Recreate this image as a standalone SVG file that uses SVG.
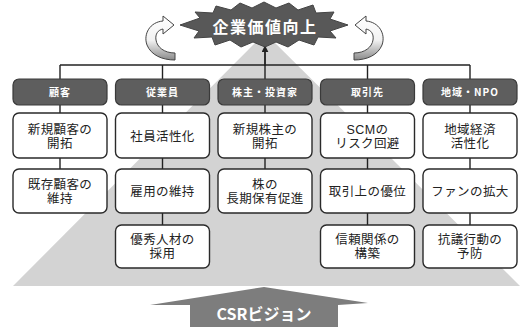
<svg xmlns="http://www.w3.org/2000/svg" width="520" height="327" viewBox="0 0 520 327">
<defs>
<style>
.hdr rect{fill:#5e5e5e;stroke:#3a3a3a;stroke-width:1.2}
.hdr text{fill:#fff;font-family:"Noto Sans CJK JP","Noto Sans",sans-serif;font-size:10px;font-weight:700;letter-spacing:1px;text-anchor:middle}
.box rect{fill:#fff;stroke:#2a2a2a;stroke-width:1.4}
.box text{fill:#222;font-family:"Liberation Sans","Noto Sans CJK JP",sans-serif;font-size:12.5px;text-anchor:middle;letter-spacing:0.4px}
.conn line,.conn path{stroke:#222;stroke-width:1.4;fill:none}
</style>
<linearGradient id="ca" x1="0" y1="0" x2="0" y2="1">
<stop offset="0" stop-color="#ffffff"/>
<stop offset="0.55" stop-color="#f2f2f2"/>
<stop offset="1" stop-color="#8a8a8a"/>
</linearGradient>
<marker id="ah" viewBox="0 0 10 10" refX="9" refY="5" markerWidth="5" markerHeight="5" orient="auto">
<path d="M0,0 L10,5 L0,10 Z" fill="#222"/>
</marker>
</defs>
<rect width="520" height="327" fill="#fff"/>
<g id="pyramid">
<polygon points="265,33 13,286 520,286" fill="#d3d3d3"/>
</g>
<g id="csr-vision">
<polygon points="264,287 150,305 190,305 190,327 338,327 338,305 368,303" fill="#7d7d7d"/>
<text x="264" y="320" fill="#fff" font-family="'Noto Sans CJK JP','Noto Sans',sans-serif" font-size="16" font-weight="700" text-anchor="middle">CSRビジョン</text>
</g>
<g class="conn" id="connectors">
<line x1="60" y1="65" x2="470" y2="65"/>
<line x1="60" y1="65" x2="60" y2="79"/>
<line x1="162.5" y1="65" x2="162.5" y2="79"/>
<line x1="265" y1="46" x2="265" y2="79"/>
<line x1="367.5" y1="65" x2="367.5" y2="79"/>
<line x1="470" y1="65" x2="470" y2="79"/>
<path d="M265,66 L265,46" marker-end="url(#ah)"/>
<line x1="60" y1="105" x2="60" y2="113"/>
<line x1="162.5" y1="105" x2="162.5" y2="113"/>
<line x1="265" y1="105" x2="265" y2="113"/>
<line x1="367.5" y1="105" x2="367.5" y2="113"/>
<line x1="470" y1="105" x2="470" y2="113"/>
<line x1="60" y1="158" x2="60" y2="169"/>
<line x1="162.5" y1="158" x2="162.5" y2="169"/>
<line x1="265" y1="158" x2="265" y2="169"/>
<line x1="367.5" y1="158" x2="367.5" y2="169"/>
<line x1="470" y1="158" x2="470" y2="169"/>
<line x1="162.5" y1="213" x2="162.5" y2="225"/>
<line x1="367.5" y1="213" x2="367.5" y2="225"/>
<line x1="470" y1="213" x2="470" y2="225"/>
</g>
<g id="value-up">
<polygon points="180,25 200,18 195,12 213,13 216,6 231,10 240,3 252,8 264,2 276,8 289,3 298,10 313,5 316,13 334,12 330,19 348,25 330,31 336,38 318,37 314,45 299,40 288,47 276,42 265,47 253,42 241,47 230,40 215,45 212,37 194,38 199,31" fill="#585858" stroke="#444" stroke-width="1"/>
<text x="265" y="33" fill="#fff" font-family="'Noto Sans CJK JP','Noto Sans',sans-serif" font-size="16" font-weight="700" letter-spacing="1.5" text-anchor="middle">企業価値向上</text>
</g>
<g id="loop-left">
<path d="M174,25 L163,16 L163,21 C150,22 143,34 147,45 C151,55 162,60 175,60 L175,53 C164,53 157,47 156,40 C155,34 158,30 163,29 L163,34 Z" fill="url(#ca)" stroke="#444" stroke-width="1"/>
</g>
<g id="loop-right" transform="translate(529,0) scale(-1,1)">
<path d="M174,25 L163,16 L163,21 C150,22 143,34 147,45 C151,55 162,60 175,60 L175,53 C164,53 157,47 156,40 C155,34 158,30 163,29 L163,34 Z" fill="url(#ca)" stroke="#444" stroke-width="1"/>
</g>
<g id="h-customer" class="hdr"><rect x="13" y="79" width="94" height="26" rx="6"/><text x="60" y="96">顧客</text></g>
<g id="h-employee" class="hdr"><rect x="115.5" y="79" width="94" height="26" rx="6"/><text x="162.5" y="96">従業員</text></g>
<g id="h-investor" class="hdr"><rect x="218" y="79" width="94" height="26" rx="6"/><text x="265" y="96">株主・投資家</text></g>
<g id="h-supplier" class="hdr"><rect x="320.5" y="79" width="94" height="26" rx="6"/><text x="367.5" y="96">取引先</text></g>
<g id="h-community" class="hdr"><rect x="423" y="79" width="94" height="26" rx="6"/><text x="470" y="96">地域・NPO</text></g>
<g id="c1r1" class="box"><rect x="13" y="113" width="94" height="45" rx="6"/><text x="60" y="134">新規顧客の</text><text x="60" y="148">開拓</text></g>
<g id="c1r2" class="box"><rect x="13" y="169" width="94" height="44" rx="6"/><text x="60" y="189">既存顧客の</text><text x="60" y="203">維持</text></g>
<g id="c2r1" class="box"><rect x="115.5" y="113" width="94" height="45" rx="6"/><text x="162.5" y="141">社員活性化</text></g>
<g id="c2r2" class="box"><rect x="115.5" y="169" width="94" height="44" rx="6"/><text x="162.5" y="196">雇用の維持</text></g>
<g id="c2r3" class="box"><rect x="115.5" y="225" width="94" height="43" rx="6"/><text x="162.5" y="244">優秀人材の</text><text x="162.5" y="258">採用</text></g>
<g id="c3r1" class="box"><rect x="218" y="113" width="94" height="45" rx="6"/><text x="265" y="134">新規株主の</text><text x="265" y="148">開拓</text></g>
<g id="c3r2" class="box"><rect x="218" y="169" width="94" height="44" rx="6"/><text x="265" y="189">株の</text><text x="265" y="203">長期保有促進</text></g>
<g id="c4r1" class="box"><rect x="320.5" y="113" width="94" height="45" rx="6"/><text x="367.5" y="134">SCMの</text><text x="367.5" y="148">リスク回避</text></g>
<g id="c4r2" class="box"><rect x="320.5" y="169" width="94" height="44" rx="6"/><text x="367.5" y="196">取引上の優位</text></g>
<g id="c4r3" class="box"><rect x="320.5" y="225" width="94" height="43" rx="6"/><text x="367.5" y="244">信頼関係の</text><text x="367.5" y="258">構築</text></g>
<g id="c5r1" class="box"><rect x="423" y="113" width="94" height="45" rx="6"/><text x="470" y="134">地域経済</text><text x="470" y="148">活性化</text></g>
<g id="c5r2" class="box"><rect x="423" y="169" width="94" height="44" rx="6"/><text x="470" y="196">ファンの拡大</text></g>
<g id="c5r3" class="box"><rect x="423" y="225" width="94" height="43" rx="6"/><text x="470" y="244">抗議行動の</text><text x="470" y="258">予防</text></g>
</svg>
